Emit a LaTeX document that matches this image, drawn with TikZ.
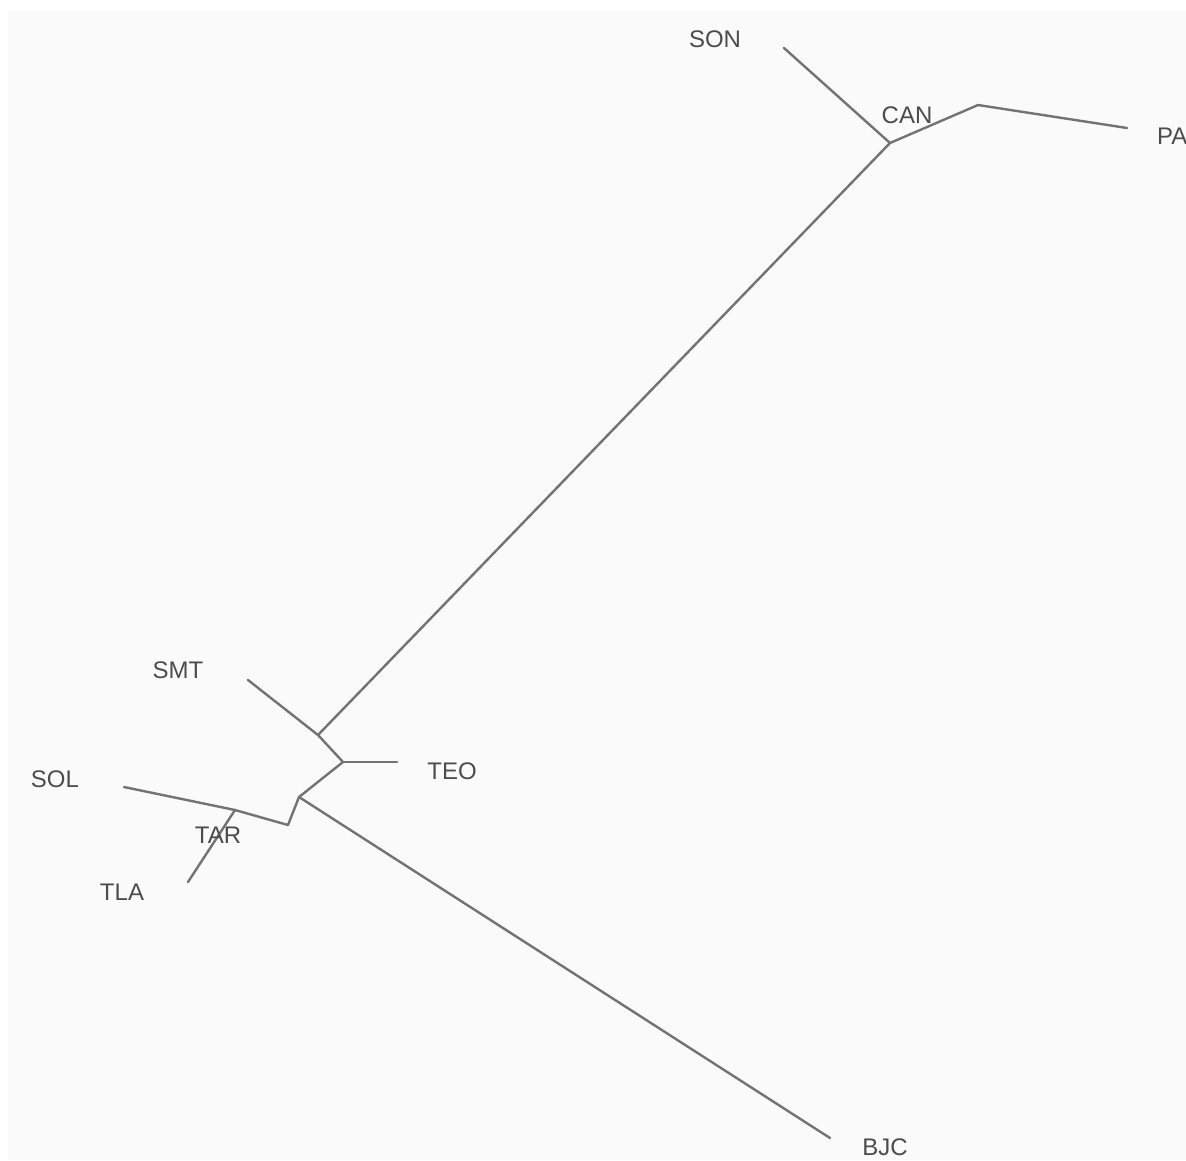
\documentclass[tikz,border=0pt]{standalone}
\usepackage{fontspec}
\setmainfont{Liberation Sans}
\begin{document}
\begin{tikzpicture}[x=1pt,y=-1pt,
  branch/.style={draw=black!55,line width=2.4pt,line cap=round,line join=round},
  tiplabel/.style={inner sep=0pt,text=black!70,font=\fontsize{24}{24}\selectfont}]
\useasboundingbox (0,0) rectangle (1186,1160);
\fill[white] (0,0) rectangle (1186,1160);
\fill[black!2] (8,11) rectangle (1186,1160);
% tree coordinates
\coordinate (son) at (784,48);
\coordinate (a) at (890,143);
\coordinate (b) at (978,105);
\coordinate (pa) at (1127,128);
\coordinate (c) at (318,735);
\coordinate (smt) at (248,680);
\coordinate (d) at (343,762);
\coordinate (teo) at (397,762);
\coordinate (e) at (299,797);
\coordinate (bjc) at (830,1138);
\coordinate (f) at (288,825);
\coordinate (g) at (235,810);
\coordinate (sol) at (124,787);
\coordinate (tla) at (188,882);
% branches
\draw[branch] (son) -- (a);
\draw[branch] (a) -- (b);
\draw[branch] (b) -- (pa);
\draw[branch] (a) -- (c);
\draw[branch] (smt) -- (c);
\draw[branch] (c) -- (d);
\draw[branch] (d) -- (teo);
\draw[branch] (d) -- (e);
\draw[branch] (e) -- (bjc);
\draw[branch] (e) -- (f);
\draw[branch] (f) -- (g);
\draw[branch] (g) -- (sol);
\draw[branch] (g) -- (tla);
% labels
\node[tiplabel] (lson) at (715,39) {SON};
\node[tiplabel] (lcan) at (907,115) {CAN};
\node[tiplabel,anchor=west] (lpa) at (1157,136) {PA};
\node[tiplabel] (lsmt) at (178,670) {SMT};
\node[tiplabel] (lteo) at (452,771) {TEO};
\node[tiplabel] (lsol) at (55,779) {SOL};
\node[tiplabel] (ltar) at (218,835) {TAR};
\node[tiplabel] (ltla) at (122,892) {TLA};
\node[tiplabel] (lbjc) at (885,1147) {BJC};
\end{tikzpicture}
\end{document}
